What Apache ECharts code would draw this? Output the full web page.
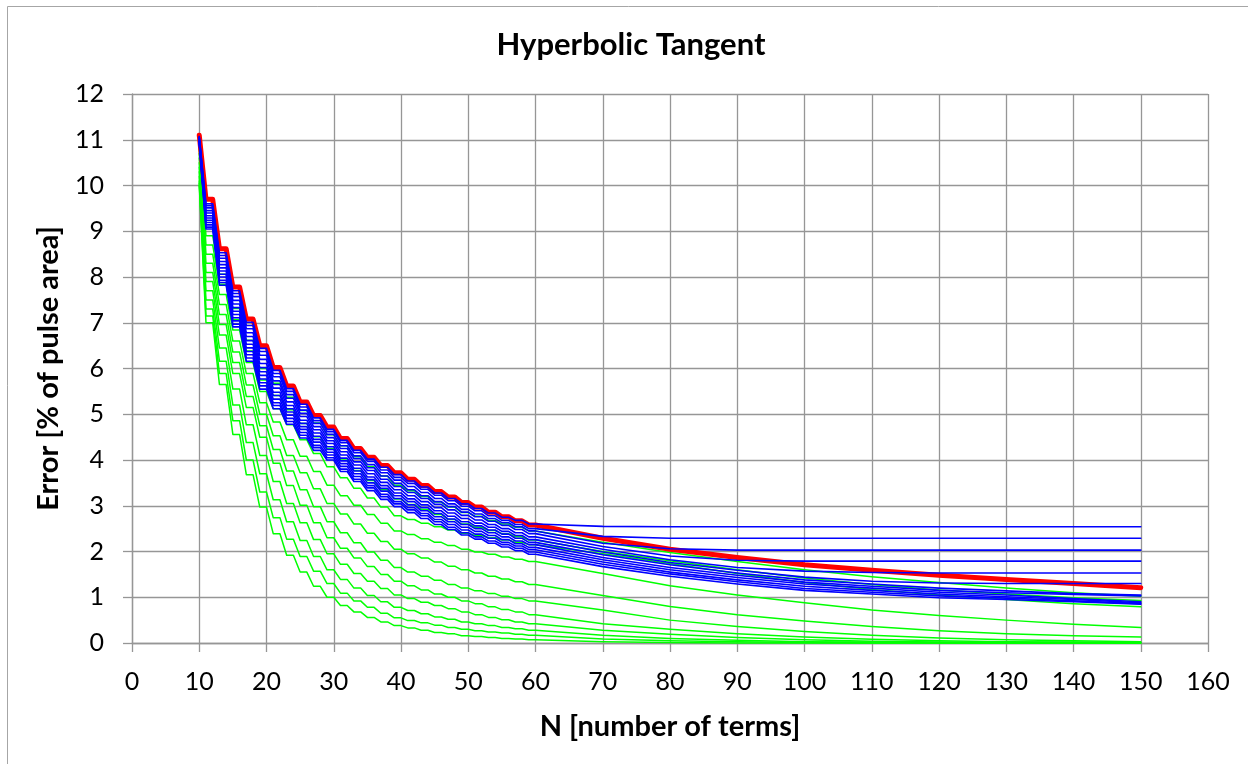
<!DOCTYPE html>
<html>
<head>
<meta charset="utf-8">
<script src="https://cdn.jsdelivr.net/npm/echarts@6/dist/echarts.min.js"></script>
<style>
  html, body { margin: 0; padding: 0; background: #ffffff; }
  #chart { width: 1248px; height: 764px; }
</style>
</head>
<body>
<div id="chart"></div>
<script>
// Stair levels: the error at each even N also holds at the odd N just before it,
// so each level is drawn as a flat piece from N-1 to N.
const STEP_N = [10, 12, 14, 16, 18, 20, 22, 24, 26, 28, 30, 32, 34, 36, 38, 40,
  42, 44, 46, 48, 50, 52, 54, 56, 58, 60];
// Beyond N = 60 the steps are tiny, so the curves are sampled every 10 terms.
const TAIL_N = [70, 80, 90, 100, 110, 120, 130, 140, 150];

const X_MIN = 0, X_MAX = 160, X_STEP = 10;
const Y_MIN = 0, Y_MAX = 12, Y_STEP = 1;

// Envelope (worst case) error
const RED = [11.1, 9.7, 8.62, 7.78, 7.08, 6.5, 6.02, 5.62, 5.27, 4.97, 4.72, 4.47, 4.25, 4.06, 3.88, 3.72,
  3.58, 3.44, 3.31, 3.19, 3.07, 2.97, 2.86, 2.76, 2.67, 2.58,
  2.29, 2.05, 1.87, 1.71, 1.59, 1.48, 1.39, 1.30, 1.21];

// Curves that level off at a floor
const BLUE_1 = [11.07, 9.60, 8.53, 7.70, 7.01, 6.44, 5.96, 5.56, 5.22, 4.92, 4.67, 4.43, 4.21, 4.02, 3.84, 3.68,
  3.54, 3.41, 3.28, 3.16, 3.04, 2.94, 2.84, 2.75, 2.68, 2.60,
  2.55, 2.54, 2.54, 2.54, 2.54, 2.54, 2.54, 2.54, 2.54];
const BLUE_2 = [11.06, 9.56, 8.47, 7.64, 6.94, 6.37, 5.89, 5.50, 5.16, 4.86, 4.62, 4.38, 4.16, 3.97, 3.78, 3.62,
  3.49, 3.36, 3.23, 3.11, 2.99, 2.89, 2.78, 2.68, 2.59, 2.50,
  2.33, 2.29, 2.29, 2.29, 2.29, 2.29, 2.29, 2.29, 2.29];
const BLUE_3 = [11.05, 9.51, 8.41, 7.57, 6.87, 6.29, 5.82, 5.43, 5.09, 4.80, 4.56, 4.31, 4.09, 3.90, 3.72, 3.56,
  3.42, 3.29, 3.16, 3.04, 2.92, 2.82, 2.72, 2.63, 2.54, 2.45,
  2.18, 2.06, 2.03, 2.03, 2.03, 2.03, 2.03, 2.03, 2.03];
const BLUE_4 = [11.03, 9.45, 8.34, 7.49, 6.78, 6.20, 5.73, 5.35, 5.02, 4.73, 4.49, 4.25, 4.03, 3.83, 3.65, 3.49,
  3.35, 3.22, 3.09, 2.98, 2.86, 2.76, 2.66, 2.57, 2.48, 2.39,
  2.11, 1.90, 1.81, 1.79, 1.79, 1.79, 1.79, 1.79, 1.79];
const BLUE_5 = [11.02, 9.40, 8.27, 7.41, 6.70, 6.11, 5.65, 5.27, 4.95, 4.66, 4.42, 4.18, 3.96, 3.77, 3.58, 3.42,
  3.29, 3.16, 3.03, 2.91, 2.79, 2.69, 2.59, 2.50, 2.41, 2.32,
  2.05, 1.82, 1.65, 1.57, 1.54, 1.53, 1.53, 1.53, 1.53];
const BLUE_6 = [11.00, 9.34, 8.20, 7.33, 6.61, 6.02, 5.57, 5.19, 4.87, 4.59, 4.36, 4.11, 3.89, 3.70, 3.51, 3.35,
  3.22, 3.09, 2.96, 2.84, 2.72, 2.62, 2.53, 2.44, 2.35, 2.26,
  1.99, 1.76, 1.59, 1.44, 1.35, 1.31, 1.30, 1.30, 1.30];
const BLUE_7 = [10.99, 9.29, 8.13, 7.25, 6.53, 5.93, 5.48, 5.12, 4.80, 4.52, 4.29, 4.04, 3.82, 3.63, 3.44, 3.28,
  3.15, 3.02, 2.89, 2.77, 2.65, 2.56, 2.47, 2.38, 2.29, 2.20,
  1.93, 1.71, 1.53, 1.38, 1.29, 1.20, 1.14, 1.08, 1.05];
const BLUE_8 = [10.98, 9.24, 8.06, 7.18, 6.45, 5.85, 5.41, 5.05, 4.73, 4.45, 4.23, 3.98, 3.76, 3.57, 3.38, 3.22,
  3.09, 2.96, 2.83, 2.71, 2.59, 2.50, 2.41, 2.32, 2.23, 2.15,
  1.87, 1.65, 1.48, 1.33, 1.24, 1.15, 1.10, 1.06, 1.03];
const BLUE_9 = [10.97, 9.19, 8.00, 7.11, 6.37, 5.77, 5.33, 4.98, 4.67, 4.39, 4.17, 3.92, 3.70, 3.50, 3.32, 3.16,
  3.02, 2.89, 2.76, 2.65, 2.53, 2.44, 2.35, 2.26, 2.17, 2.09,
  1.82, 1.60, 1.43, 1.29, 1.20, 1.11, 1.05, 0.97, 0.90];
const BLUE_10 = [10.95, 9.14, 7.93, 7.04, 6.30, 5.69, 5.25, 4.91, 4.60, 4.32, 4.11, 3.86, 3.64, 3.44, 3.25, 3.09,
  2.96, 2.83, 2.70, 2.59, 2.47, 2.38, 2.29, 2.20, 2.12, 2.04,
  1.77, 1.55, 1.38, 1.24, 1.15, 1.07, 1.01, 0.95, 0.88];
const BLUE_11 = [10.94, 9.09, 7.88, 6.97, 6.23, 5.62, 5.19, 4.84, 4.54, 4.27, 4.05, 3.80, 3.58, 3.39, 3.20, 3.04,
  2.91, 2.78, 2.65, 2.53, 2.41, 2.32, 2.23, 2.15, 2.07, 1.99,
  1.72, 1.51, 1.34, 1.19, 1.11, 1.03, 0.98, 0.92, 0.86];
const BLUE_12 = [10.93, 9.05, 7.82, 6.91, 6.16, 5.55, 5.12, 4.78, 4.48, 4.21, 4.00, 3.75, 3.53, 3.33, 3.14, 2.98,
  2.85, 2.72, 2.59, 2.48, 2.36, 2.27, 2.18, 2.10, 2.02, 1.94,
  1.67, 1.46, 1.29, 1.15, 1.07, 0.99, 0.95, 0.90, 0.85];

// Curves that keep converging
const GREEN_1 = [10.9, 8.9, 8.06, 7.31, 6.62, 6.0, 5.68, 5.37, 5.08, 4.81, 4.55, 4.31, 4.07, 3.85, 3.65, 3.45,
  3.33, 3.20, 3.08, 2.97, 2.85, 2.77, 2.68, 2.60, 2.53, 2.45,
  2.2, 1.98, 1.78, 1.6, 1.45, 1.32, 1.2, 1.1, 1.02];
const GREEN_2 = [10.8, 8.7, 7.84, 7.07, 6.38, 5.75, 5.41, 5.10, 4.80, 4.51, 4.25, 4.00, 3.77, 3.55, 3.35, 3.15,
  3.03, 2.92, 2.81, 2.70, 2.60, 2.53, 2.46, 2.39, 2.32, 2.25,
  2.0, 1.8, 1.6, 1.42, 1.28, 1.16, 1.07, 0.99, 0.93];
const GREEN_3 = [10.7, 8.5, 7.62, 6.84, 6.13, 5.5, 5.12, 4.77, 4.44, 4.14, 3.85, 3.61, 3.38, 3.17, 2.97, 2.78,
  2.70, 2.62, 2.54, 2.47, 2.40, 2.35, 2.30, 2.25, 2.20, 2.15,
  1.95, 1.74, 1.52, 1.32, 1.17, 1.05, 0.95, 0.86, 0.79];
const GREEN_4 = [10.6, 8.3, 7.40, 6.60, 5.89, 5.25, 4.83, 4.44, 4.08, 3.75, 3.45, 3.22, 3.01, 2.81, 2.62, 2.45,
  2.37, 2.28, 2.20, 2.13, 2.05, 1.99, 1.94, 1.88, 1.83, 1.78,
  1.52, 1.25, 1.05, 0.88, 0.72, 0.6, 0.5, 0.41, 0.34];
const GREEN_5 = [10.5, 8.1, 7.18, 6.36, 5.64, 5.0, 4.53, 4.10, 3.72, 3.37, 3.05, 2.82, 2.60, 2.40, 2.22, 2.05,
  1.95, 1.86, 1.77, 1.68, 1.60, 1.53, 1.46, 1.40, 1.34, 1.28,
  1.04, 0.8, 0.62, 0.48, 0.36, 0.27, 0.2, 0.16, 0.13];
const GREEN_6 = [10.4, 7.9, 6.96, 6.13, 5.39, 4.75, 4.23, 3.76, 3.35, 2.98, 2.65, 2.41, 2.19, 1.99, 1.81, 1.65,
  1.55, 1.46, 1.37, 1.28, 1.20, 1.14, 1.08, 1.02, 0.97, 0.92,
  0.72, 0.5, 0.36, 0.25, 0.17, 0.11, 0.07, 0.05, 0.03];
const GREEN_7 = [10.3, 7.7, 6.73, 5.89, 5.15, 4.5, 3.93, 3.44, 3.01, 2.63, 2.3, 2.07, 1.86, 1.67, 1.50, 1.35,
  1.25, 1.16, 1.07, 1.00, 0.92, 0.86, 0.79, 0.73, 0.68, 0.62,
  0.42, 0.3, 0.2, 0.13, 0.08, 0.05, 0.03, 0.02, 0.01];
const GREEN_8 = [10.2, 7.5, 6.45, 5.55, 4.77, 4.1, 3.53, 3.05, 2.63, 2.26, 1.95, 1.72, 1.52, 1.35, 1.19, 1.05,
  0.97, 0.89, 0.82, 0.75, 0.68, 0.62, 0.56, 0.51, 0.46, 0.42,
  0.28, 0.19, 0.12, 0.07, 0.04, 0.02, 0.01, 0.01, 0];
const GREEN_9 = [10.1, 7.3, 6.16, 5.20, 4.38, 3.7, 3.13, 2.65, 2.24, 1.89, 1.6, 1.39, 1.20, 1.04, 0.90, 0.78,
  0.71, 0.64, 0.57, 0.52, 0.46, 0.42, 0.38, 0.34, 0.31, 0.28,
  0.17, 0.1, 0.06, 0.03, 0.02, 0.01, 0, 0, 0];
const GREEN_10 = [10.05, 7.15, 5.89, 4.86, 4.0, 3.3, 2.74, 2.27, 1.89, 1.57, 1.3, 1.09, 0.92, 0.78, 0.65, 0.55,
  0.49, 0.44, 0.39, 0.34, 0.30, 0.27, 0.24, 0.22, 0.19, 0.17,
  0.09, 0.05, 0.03, 0.01, 0, 0, 0, 0, 0];
const GREEN_11 = [10.0, 7.0, 5.65, 4.56, 3.68, 2.97, 2.39, 1.92, 1.55, 1.24, 1.0, 0.82, 0.68, 0.56, 0.46, 0.38,
  0.33, 0.28, 0.23, 0.20, 0.16, 0.14, 0.12, 0.10, 0.09, 0.07,
  0.03, 0.01, 0, 0, 0, 0, 0, 0, 0];

const GREENS = [GREEN_1, GREEN_2, GREEN_3, GREEN_4, GREEN_5, GREEN_6, GREEN_7, GREEN_8, GREEN_9, GREEN_10, GREEN_11];
const BLUES = [BLUE_1, BLUE_2, BLUE_3, BLUE_4, BLUE_5, BLUE_6, BLUE_7, BLUE_8, BLUE_9, BLUE_10, BLUE_11, BLUE_12];

// Expand stair levels into [N, error] pairs, then append the sparse tail.
function toPoints(values) {
  const pts = [[STEP_N[0], values[0]]];
  for (let i = 1; i < STEP_N.length; i++) {
    pts.push([STEP_N[i] - 1, values[i]], [STEP_N[i], values[i]]);
  }
  TAIL_N.forEach(function (n, j) { pts.push([n, values[STEP_N.length + j]]); });
  return pts;
}

function lineSeries(values, color, width) {
  return {
    type: 'line',
    data: toPoints(values),
    symbol: 'none',
    showSymbol: false,
    clip: false,
    silent: true,
    animation: false,
    lineStyle: { color: color, width: width, join: 'round', cap: 'round' },
    emphasis: { disabled: true }
  };
}

const FONT = 'Lato, "Open Sans", "DejaVu Sans", sans-serif';
const GRID_COLOR = '#969696';

const series = [];
GREENS.forEach(function (v) { series.push(lineSeries(v, '#00ff00', 1.5)); });
series.push(lineSeries(RED, '#ff0000', 5));
BLUES.forEach(function (v) { series.push(lineSeries(v, '#0000ff', 1.6)); });

const chart = echarts.init(document.getElementById('chart'), null, { renderer: 'canvas' });
chart.setOption({
  backgroundColor: '#ffffff',
  animation: false,
  grid: { left: 132, right: 40, top: 94, bottom: 121, containLabel: false },
  xAxis: {
    type: 'value',
    min: X_MIN, max: X_MAX, interval: X_STEP,
    name: 'N [number of terms]',
    nameLocation: 'middle',
    nameGap: 69,
    nameTextStyle: { fontFamily: FONT, fontWeight: 'bold', fontSize: 29, color: '#000000' },
    axisLine: { show: true, onZero: false, lineStyle: { color: GRID_COLOR, width: 1.3 } },
    axisTick: { show: true, inside: false, length: 9, lineStyle: { color: GRID_COLOR, width: 1.3 } },
    axisLabel: { margin: 26, fontFamily: FONT, fontSize: 25, color: '#000000' },
    splitLine: { show: true, lineStyle: { color: GRID_COLOR, width: 1.3 } }
  },
  yAxis: {
    type: 'value',
    min: Y_MIN, max: Y_MAX, interval: Y_STEP,
    name: 'Error [% of pulse area]',
    nameLocation: 'middle',
    nameGap: 69,
    nameRotate: 90,
    nameTextStyle: { fontFamily: FONT, fontWeight: 'bold', fontSize: 29, color: '#000000' },
    axisLine: { show: true, lineStyle: { color: GRID_COLOR, width: 1.3 } },
    axisTick: { show: true, inside: false, length: 9, lineStyle: { color: GRID_COLOR, width: 1.3 } },
    axisLabel: { margin: 28, fontFamily: FONT, fontSize: 25, color: '#000000' },
    splitLine: { show: true, lineStyle: { color: GRID_COLOR, width: 1.3 } }
  },
  graphic: [
    {
      type: 'rect',
      shape: { x: 7.5, y: 6.5, width: 1400, height: 900 },
      style: { fill: 'none', stroke: '#a6a6a6', lineWidth: 1 },
      silent: true, z: -10
    },
    {
      type: 'text',
      x: 631, y: 45,
      style: {
        text: 'Hyperbolic Tangent',
        fontFamily: FONT, fontWeight: 'bold', fontSize: 31,
        fill: '#000000', textAlign: 'center', textVerticalAlign: 'middle'
      },
      silent: true
    }
  ],
  series: series
});
</script>
</body>
</html>
